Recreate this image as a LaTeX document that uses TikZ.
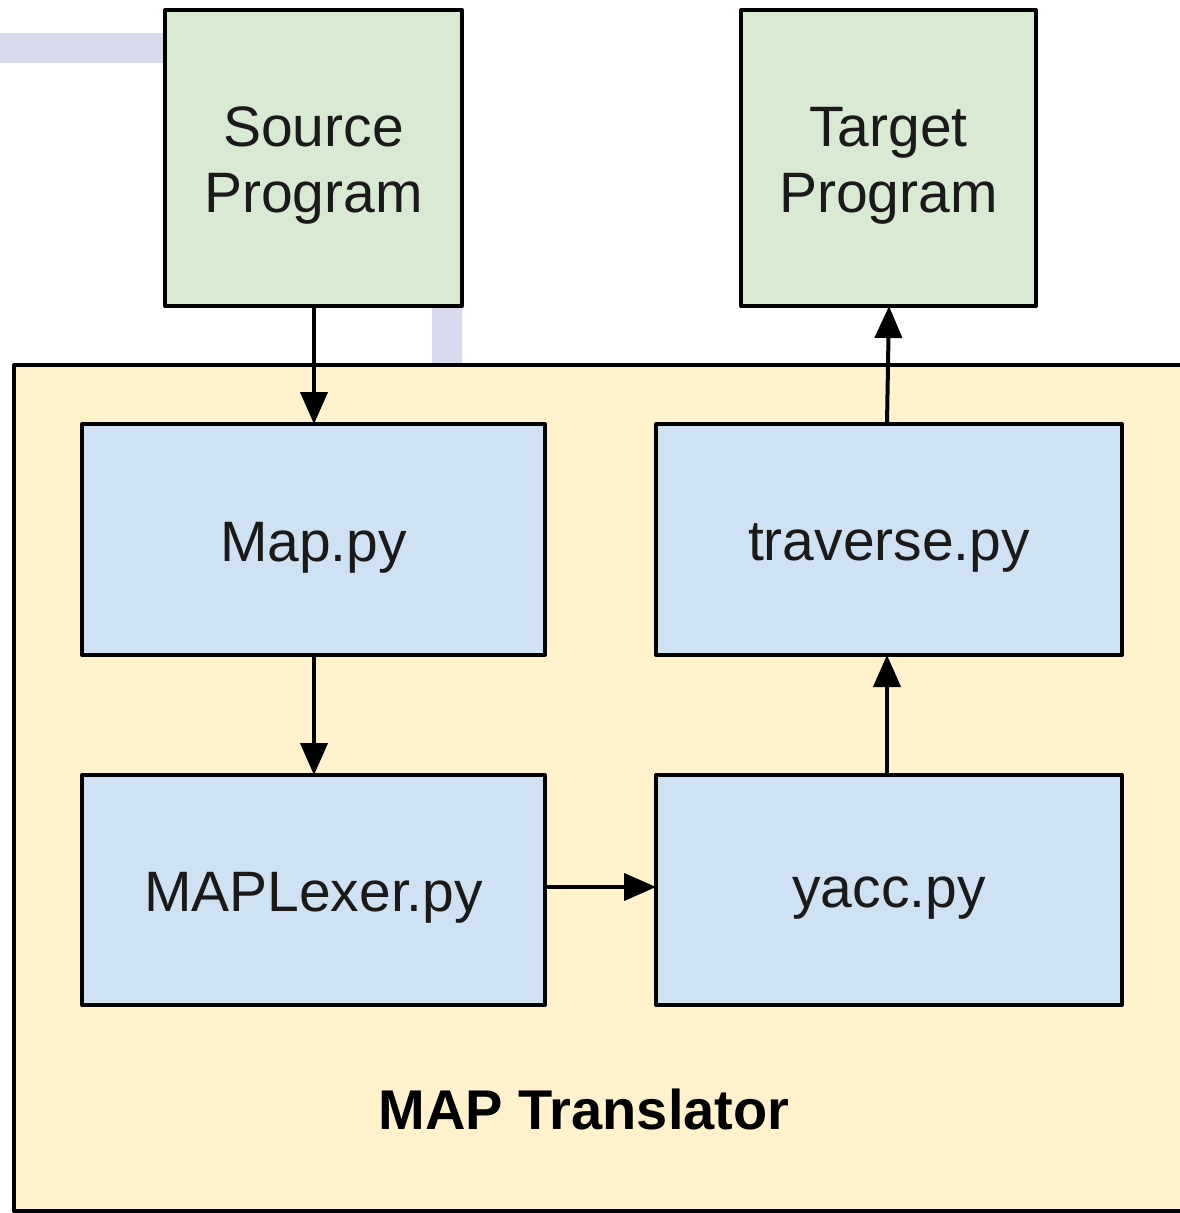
\documentclass[tikz,border=0pt]{standalone}
\usepackage{fontspec}
\setmainfont{Liberation Sans}
\usetikzlibrary{arrows.meta}
\definecolor{progfill}{HTML}{D9EAD3}
\definecolor{modfill}{HTML}{CFE2F3}
\definecolor{outerfill}{HTML}{FFF2CC}
\definecolor{lav}{HTML}{DADAEE}
\definecolor{txt}{HTML}{1A1A1A}
\tikzset{
  boxline/.style={draw=black, line width=4pt, line join=round},
  progbox/.style={boxline, fill=progfill},
  modbox/.style={boxline, fill=modfill},
  boxtext/.style={font=\fontsize{57}{66}\selectfont, text=txt, align=center},
  conn/.style={line width=4pt, -{Triangle[length=32pt,width=27pt]}},
  lavline/.style={draw=lav, line width=30pt}
}
\begin{document}
\begin{tikzpicture}[x=1pt,y=-1pt]
\useasboundingbox (0,0) rectangle (1180,1213);
\clip (0,0) rectangle (1180,1213);
\fill[white] (0,0) rectangle (1180,1213);
% lavender lines
\coordinate (lavA) at (0,48);
\coordinate (lavB) at (170,48);
\coordinate (lavC) at (447,300);
\coordinate (lavD) at (447,370);
\draw[lavline] (lavA) -- (lavB);
\draw[lavline] (lavC) -- (lavD);
% outer box
\draw[boxline, fill=outerfill] (14,365) rectangle (1240,1211);
\node[boxtext, font=\fontsize{56}{66}\selectfont\bfseries, text=black] (title) at (584,1109) {MAP Translator};
% program boxes
\draw[progbox] (165,10) rectangle (462,306);
\node[boxtext] (src) at (313.5,166) {Source\\Program};
\coordinate (srcB) at (314,306);
\draw[progbox] (741,10) rectangle (1036,306);
\node[boxtext] (tgt) at (888.5,166) {Target\\Program};
\coordinate (tgtB) at (889,306);
% module boxes
\draw[modbox] (82,424) rectangle (545,655);
\node[boxtext] (map) at (313.5,548) {Map.py};
\coordinate (mapT) at (314,424);
\coordinate (mapB) at (314,655);
\draw[modbox] (656,424) rectangle (1122,655);
\node[boxtext] (trav) at (889,548) {traverse.py};
\coordinate (travT) at (887,424);
\coordinate (travB) at (887,655);
\draw[modbox] (82,775) rectangle (545,1005);
\node[boxtext] (lex) at (313.5,898) {MAPLexer.py};
\coordinate (lexT) at (314,775);
\coordinate (lexR) at (545,887);
\draw[modbox] (656,775) rectangle (1122,1005);
\node[boxtext] (yacc) at (889,898) {yacc.py};
\coordinate (yaccL) at (656,887);
\coordinate (yaccT) at (887,775);
% connectors
\draw[conn] (srcB) -- (mapT);
\draw[conn] (mapB) -- (lexT);
\draw[conn] (lexR) -- (yaccL);
\draw[conn] (yaccT) -- (travB);
\draw[conn] (travT) -- (tgtB);
\end{tikzpicture}
\end{document}
